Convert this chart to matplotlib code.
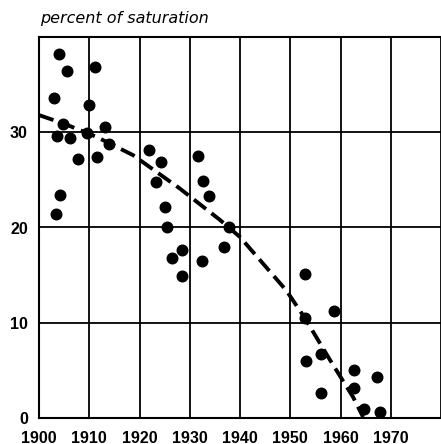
import matplotlib
matplotlib.use("Agg")
import matplotlib.pyplot as plt

plt.rcParams['font.family'] = ['Liberation Sans', 'DejaVu Sans']
plt.rcParams['lines.scale_dashes'] = False

# measured points (year, percent of saturation)
years = [1904.0, 1905.5, 1911.1, 1903.0, 1910.0, 1904.8, 1913.1, 1903.6, 1906.2,
         1909.5, 1913.9, 1907.8, 1911.6, 1921.9, 1924.3, 1931.6, 1923.2, 1932.7,
         1933.9, 1904.2, 1903.4, 1925.0, 1925.4, 1928.5, 1926.4, 1932.4, 1928.5,
         1936.8, 1937.8, 1952.9, 1952.9, 1958.7, 1956.1, 1953.2, 1962.7, 1967.3,
         1962.7, 1956.1, 1964.7, 1967.8]
percent = [38.2, 36.4, 36.9, 33.6, 32.9, 30.9, 30.5, 29.6, 29.4,
           29.9, 28.8, 27.2, 27.4, 28.1, 26.9, 27.5, 24.8, 24.9,
           23.3, 23.4, 21.4, 22.2, 20.1, 17.6, 16.8, 16.5, 14.9,
           18.0, 20.1, 15.1, 10.5, 11.2, 6.7, 6.0, 5.0, 4.3,
           3.1, 2.6, 0.9, 0.6]

# hand drawn trend curve
trend_years = [1900, 1905, 1911.5, 1918.7, 1928, 1936, 1940, 1944.6, 1949.2,
               1952.9, 1957.9, 1962.5, 1964.5]
trend_vals = [31.8, 30.9, 29.5, 27.6, 24.1, 20.8, 19.0, 16.2, 13.4,
              10.5, 6.1, 2.2, 0.1]

x_ticks = [1900, 1910, 1920, 1930, 1940, 1950, 1960, 1970]
y_ticks = [0, 10, 20, 30]

fig = plt.figure(figsize=(4.41, 4.44), dpi=100)
ax = fig.add_axes([39 / 441, 1 - 418 / 444, 1 - 39 / 441, (418 - 37) / 444])

ax.set_xlim(1900, 1980)
ax.set_ylim(0, 40)

# grid
for x in x_ticks[1:] + [1980]:
    ax.axvline(x, color='black', lw=1.3, zorder=1)
for y in y_ticks[1:]:
    ax.axhline(y, color='black', lw=1.3, zorder=1)
for side in ['left', 'bottom', 'top']:
    ax.spines[side].set_linewidth(1.5)
ax.spines['right'].set_visible(False)

ax.plot(trend_years, trend_vals, color='black', lw=2.8, dashes=(11, 5),
        solid_capstyle='butt', zorder=2)
ax.plot(years, percent, 'o', color='black', ms=7.6, zorder=3)

ax.set_xticks(x_ticks)
ax.set_xticklabels([str(v) for v in x_ticks], fontweight='bold', fontsize=11.5)
ax.set_yticks(y_ticks)
ax.set_yticklabels([str(v) for v in y_ticks], fontweight='bold', fontsize=11.5)
ax.tick_params(axis='both', length=0)
ax.tick_params(axis='x', pad=9)
ax.tick_params(axis='y', pad=8)

fig.text(40 / 441, 1 - 23 / 444, 'percent of saturation', style='italic',
         family=['DejaVu Sans'], fontsize=11.5, ha='left', va='baseline')

fig.savefig('out.png', dpi=100)
